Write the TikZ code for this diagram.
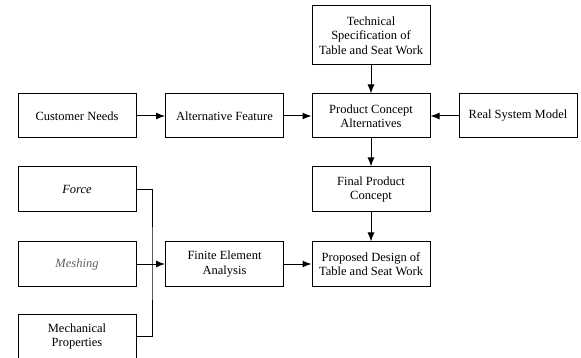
\documentclass[tikz,border=0pt]{standalone}
\usepackage{fontspec}
\setmainfont{Liberation Serif}
\usetikzlibrary{arrows.meta}
\begin{document}
\begin{tikzpicture}[x=1pt, y=-1pt,
  box/.style={draw, line width=1pt, minimum width=118pt, minimum height=44pt,
    align=center, inner sep=2pt, font=\fontsize{12.5}{14.5}\selectfont},
  arr/.style={-{Latex[length=9pt, width=7pt]}, line width=1pt}]
  \clip (0, 0) rectangle (581, 358);
  \node [box, minimum height=59pt] (spec) at (371, 35.5) {Technical\\Specification of\\Table and Seat Work};
  \node [box] (needs) at (77, 116) {Customer Needs};
  \node [box] (feature) at (224.5, 116) {Alternative Feature};
  \node [box] (concept) at (371, 116) {Product Concept\\Alternatives};
  \node [box] (model) at (518, 116) {Real System Model};
  \node [box, minimum height=45pt] (force) at (77, 189.5) {\textit{Force}};
  \node [box, minimum height=45pt] (final) at (371, 189.5) {Final Product\\Concept};
  \node [box] (mesh) at (77, 264) {\textcolor{gray!75!black}{\textit{Meshing}}};
  \node [box] (fea) at (224.5, 264) {Finite Element\\Analysis};
  \node [box] (design) at (371, 264) {Proposed Design of\\Table and Seat Work};
  \node [box, minimum height=45pt] (mech) at (77, 336.5) {Mechanical\\Properties};
  \coordinate (bus) at (152, 264);
  \draw [arr] (spec) -- (concept);
  \draw [arr] (needs) -- (feature);
  \draw [arr] (feature) -- (concept);
  \draw [arr] (model) -- (concept);
  \draw [arr] (concept) -- (final);
  \draw [arr] (final) -- (design);
  \draw [arr] (fea) -- (design);
  \draw [arr] (mesh) -- (fea);
  \draw [line width=1pt] (force.east) -| (bus) |- (mech.east);
\end{tikzpicture}
\end{document}
